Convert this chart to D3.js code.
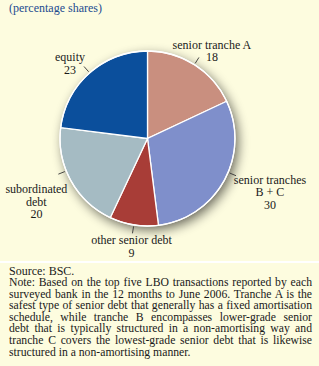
<!DOCTYPE html>
<html>
<head>
<meta charset="utf-8">
<script src="https://cdn.jsdelivr.net/npm/d3@7"></script>
<style>
    body { margin: 0; background: #fdfcdf; }
    #chart { position: absolute; left: 0; top: 0; width: 319px; height: 366px; background: #fdfcdf; }
    #notes {
        position: absolute; left: 9px; top: 265.5px; width: 303px;
        font-family: "Liberation Serif", "Times New Roman", serif;
        font-size: 11.7px; line-height: 11.6px; color: #1a1a1a;
        margin: 0; white-space: nowrap;
    }
    #notes span { display: block; text-align: justify; text-align-last: justify; }
    #notes span.last { text-align-last: left; }
    #notes .src { font-size: 12px; text-align-last: left; }
</style>
</head>
<body>
<div id="chart"></div>
<div id="notes">
    <span class="src">Source: BSC.</span>
    <span>Note: Based on the top five LBO transactions reported by each</span>
    <span>surveyed bank in the 12 months to June 2006. Tranche A is the</span>
    <span>safest type of senior debt that generally has a fixed amortisation</span>
    <span>schedule, while tranche B encompasses lower-grade senior</span>
    <span>debt that is typically structured in a non-amortising way and</span>
    <span>tranche C covers the lowest-grade senior debt that is likewise</span>
    <span class="last">structured in a non-amortising manner.</span>
</div>
<script>

// data
let categories = ["senior tranche A", "senior tranches B + C", "other senior debt", "subordinated debt", "equity"];
let shares = [18, 30, 9, 20, 23];
let colors = ["#c98f7f", "#7f8fcb", "#a83d37", "#a5bbc3", "#0b4f9c"];
// label lines (the value is added as the last line)
let labelLines = [
    ["senior tranche A"],
    ["senior tranches", "B + C"],
    ["other senior debt"],
    ["subordinated", "debt"],
    ["equity"]
];

let width = 319, height = 366;
let cx = 147.5, cy = 138.5, r = 87.5;

let svg = d3.select("#chart")
    .append("svg")
    .attr("width", width)
    .attr("height", height);

// white rule above the source line
svg.append("rect")
    .attr("x", 0).attr("y", 261)
    .attr("width", width).attr("height", 2)
    .attr("fill", "#ffffff");

svg.append("text")
    .attr("x", 9).attr("y", 12)
    .attr("font-family", "Liberation Serif, Times New Roman, serif")
    .attr("font-size", 12)
    .attr("fill", "#1c4b8f")
    .text("(percentage shares)");

// soft shadow
let defs = svg.append("defs");
let filter = defs.append("filter")
    .attr("id", "shadow")
    .attr("x", "-30%").attr("y", "-30%")
    .attr("width", "160%").attr("height", "160%");
filter.append("feGaussianBlur").attr("in", "SourceAlpha").attr("stdDeviation", 6);
filter.append("feOffset").attr("dx", 3).attr("dy", 4).attr("result", "blur");
filter.append("feComponentTransfer").append("feFuncA").attr("type", "linear").attr("slope", 0.6);
let merge = filter.append("feMerge");
merge.append("feMergeNode");
merge.append("feMergeNode").attr("in", "SourceGraphic");

let data = categories.map((c, i) => ({cat: c, value: shares[i], color: colors[i], lines: labelLines[i]}));

let pie = d3.pie().sort(null).value(d => d.value);
let arc = d3.arc().innerRadius(0).outerRadius(r);
let arcs = pie(data);

let g = svg.append("g").attr("transform", "translate(" + cx + "," + cy + ")");

g.append("circle")
    .attr("r", r)
    .attr("fill", "#8a8a70")
    .attr("filter", "url(#shadow)");

g.selectAll("path.slice")
    .data(arcs)
    .enter().append("path")
    .attr("class", "slice")
    .attr("d", arc)
    .attr("fill", d => d.data.color)
    .attr("stroke", "#ffffff")
    .attr("stroke-width", 1.3);

g.append("circle")
    .attr("r", r)
    .attr("fill", "none")
    .attr("stroke", "#ffffff")
    .attr("stroke-width", 1.3);

// label layout: leader angle shift (deg) and text offsets relative to leader end
let labelLayout = [
    {shift: 0, dx: 13, dy: -8.5},
    {shift: -6, dx: 34, dy: 8},
    {shift: 0, dx: -1, dy: 11},
    {shift: 7, dx: -22, dy: 19},
    {shift: 0, dx: -14, dy: -5.5}
];

let leaders = g.selectAll("g.label")
    .data(arcs)
    .enter().append("g")
    .attr("class", "label");

leaders.each(function(d, i) {
    let lay = labelLayout[i];
    let a = (d.startAngle + d.endAngle) / 2 + lay.shift * Math.PI / 180;
    let p0 = [Math.sin(a) * (r + 1.5), -Math.cos(a) * (r + 1.5)];
    let p1 = [Math.sin(a) * (r + 8.5), -Math.cos(a) * (r + 8.5)];
    let sel = d3.select(this);

    sel.append("line")
        .attr("x1", p0[0]).attr("y1", p0[1])
        .attr("x2", p1[0]).attr("y2", p1[1])
        .attr("stroke", "#333")
        .attr("stroke-width", 0.9);

    let lines = d.data.lines.concat([String(d.data.value)]);
    let tx = p1[0] + lay.dx, ty = p1[1] + lay.dy;
    let t = sel.append("text")
        .attr("font-family", "Liberation Serif, Times New Roman, serif")
        .attr("font-size", 12)
        .attr("fill", "#1a1a1a")
        .attr("text-anchor", "middle");
    lines.forEach((l, j) => {
        t.append("tspan")
            .attr("x", tx)
            .attr("y", ty + j * 12.5)
            .text(l);
    });
});

</script>
</body>
</html>
